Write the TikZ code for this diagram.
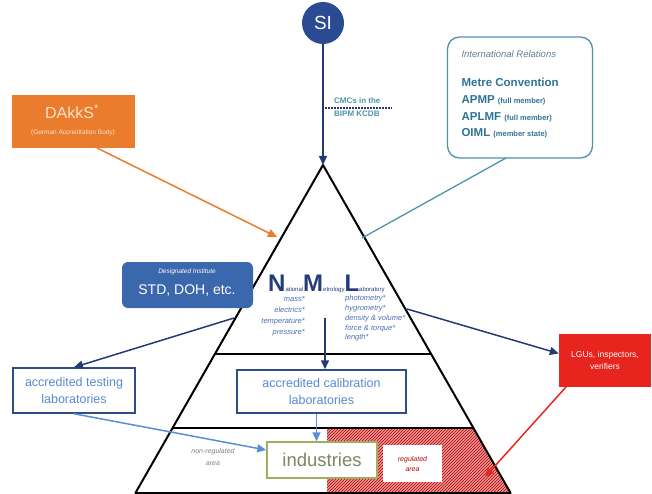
\documentclass[tikz,border=0pt]{standalone}
\usepackage{fontspec}
\setmainfont{Liberation Sans}
\usetikzlibrary{arrows.meta,patterns}
\definecolor{sinavy}{HTML}{2A4A92}
\definecolor{arrownavy}{HTML}{243A72}
\definecolor{dakksorange}{HTML}{EB7C2E}
\definecolor{dakkscream}{HTML}{FBE3C8}
\definecolor{intlteal}{HTML}{4D93AA}
\definecolor{intltext}{HTML}{2F7394}
\definecolor{intlgray}{HTML}{5E7E92}
\definecolor{desblue}{HTML}{3B67AD}
\definecolor{nmlnavy}{HTML}{233C7C}
\definecolor{listblue}{HTML}{4C6EB2}
\definecolor{labborder}{HTML}{2F4E84}
\definecolor{labtext}{HTML}{5A8AD0}
\definecolor{lightarrow}{HTML}{5B8ED4}
\definecolor{indborder}{HTML}{9FAE62}
\definecolor{indtext}{HTML}{7C8766}
\definecolor{lgured}{HTML}{E8241F}
\definecolor{hatchred}{HTML}{EC9696}
\begin{document}
\begin{tikzpicture}[x=1pt,y=-1pt,
  labbox/.style={draw=labborder,line width=1.5pt,fill=white,inner sep=0pt,align=center,text=labtext,font=\fontsize{12.5}{17}\selectfont},
  navyarrow/.style={draw=arrownavy,line width=1.5pt,-{Triangle[length=9pt,width=8pt]}},
  bluearrow/.style={draw=lightarrow,line width=1.5pt,-{Triangle[length=9pt,width=8pt]}},
  intlline/.style={anchor=base west,text=intltext,font=\fontsize{11.5}{12}\selectfont\bfseries}]
\useasboundingbox (0,0) rectangle (652,494);

\coordinate (apex) at (323,165);
\coordinate (baseL) at (135.4,493);
\coordinate (baseR) at (510.6,493);
\coordinate (bandAL) at (214.9,354);
\coordinate (bandAR) at (431.1,354);
\coordinate (bandBL) at (172.6,428);
\coordinate (bandBR) at (473.4,428);

\fill[hatchred] (327,428) -- (bandBR) -- (baseR) -- (327,493) -- cycle;
\fill[pattern=north east lines,pattern color=red!70!black] (327,428) -- (bandBR) -- (baseR) -- (327,493) -- cycle;

\draw[line width=2pt,line join=round] (apex) -- (baseL) -- (baseR) -- cycle;
\draw[line width=2pt] (bandAL) -- (bandAR);
\draw[line width=2pt] (bandBL) -- (bandBR);

\node[circle,fill=sinavy,text=white,minimum size=42pt,inner sep=0pt,font=\fontsize{19}{19}\selectfont] (si) at (323,23) {SI};
\draw[navyarrow] (si) -- (apex);
\coordinate (kcdbL) at (325,108);
\coordinate (kcdbR) at (392,108);
\draw[arrownavy,line width=2pt,dash pattern=on 1.5pt off 1.5pt] (kcdbL) -- (kcdbR);
\node[anchor=west,align=left,inner sep=0pt,text=intlteal,font=\fontsize{8}{12.5}\selectfont\bfseries] (kcdb) at (334,107) {CMCs in the\\BIPM KCDB};

\node[fill=dakksorange,minimum width=123pt,minimum height=53pt,inner sep=0pt] (dakks) at (73.5,121.5) {};
\node[text=dakkscream,font=\fontsize{16}{16}\selectfont] (dakksname) at (72,112) {DAkkS\textsuperscript{*}};
\node[text=dakkscream,font=\fontsize{6.5}{7}\selectfont] (dakksbody) at (73,133) {(German Accreditation Body)};
\coordinate (dakksfoot) at (97,148);
\coordinate (dakkshit) at (277,237);
\draw[dakksorange,line width=1.5pt,-{Triangle[length=9pt,width=8pt]}] (dakksfoot) -- (dakkshit);

\node[draw=intlteal,line width=1.3pt,rounded corners=12pt,minimum width=145pt,minimum height=121pt,inner sep=0pt] (intl) at (520,97.5) {};
\node[anchor=base west,text=intlgray,font=\fontsize{9.5}{10}\selectfont\itshape] (intltitle) at (458,58) {International Relations};
\node[intlline] (metre) at (458,87) {Metre Convention};
\node[intlline] (apmp) at (458,104) {APMP {\fontsize{7.5}{7.5}\selectfont(full member)}};
\node[intlline] (aplmf) at (458,121) {APLMF {\fontsize{7.5}{7.5}\selectfont(full member)}};
\node[intlline] (oiml) at (458,137) {OIML {\fontsize{7.5}{7.5}\selectfont(member state)}};
\coordinate (intlfoot) at (506,158);
\coordinate (intlhit) at (362,238);
\draw[intlteal,line width=1.3pt] (intlfoot) -- (intlhit);

\node[fill=desblue,rounded corners=6pt,minimum width=131pt,minimum height=46pt,inner sep=0pt] (desig) at (187.5,285) {};
\node[text=white,font=\fontsize{6.5}{7}\selectfont\itshape] (desigtitle) at (187,272) {Designated Institute};
\node[text=white,font=\fontsize{14}{14}\selectfont] (designame) at (187,291) {STD, DOH, etc.};

\node[anchor=base west,inner sep=0pt,text=nmlnavy,font=\fontsize{6}{6}\selectfont] (nml) at (268,291)
  {{\fontsize{24}{24}\selectfont\bfseries N}ational{\fontsize{24}{24}\selectfont\bfseries M}etrology{\fontsize{24}{24}\selectfont\bfseries L}aboratory};
\node[anchor=north east,align=right,inner sep=0pt,text=listblue,font=\fontsize{7.5}{11}\selectfont\itshape] (leftlist) at (305,296) {mass*\\electrics*\\temperature*\\pressure*};
\node[anchor=north west,align=left,inner sep=0pt,text=listblue,font=\fontsize{7.5}{9.8}\selectfont\itshape] (rightlist) at (345,295) {photometry*\\hygrometry*\\density \& volume*\\force \& torque*\\length*};

\node[labbox,minimum width=122pt,minimum height=45pt] (testing) at (74,390.5) {accredited testing\\laboratories};
\node[labbox,minimum width=169pt,minimum height=43pt] (calib) at (321.5,391.5) {accredited calibration\\laboratories};
\node[fill=lgured,minimum width=92pt,minimum height=53pt,inner sep=0pt,align=center,text=white,font=\fontsize{8.5}{12}\selectfont] (lgus) at (605,360.5) {LGUs, inspectors,\\verifiers};

\coordinate (nmlfoot) at (325,318);
\coordinate (leftedge) at (234,318);
\coordinate (rightedge) at (407,309);
\draw[navyarrow] (nmlfoot) -- (nmlfoot |- calib.north);
\draw[navyarrow] (leftedge) -- (testing.north);
\draw[navyarrow] (rightedge) -- ([yshift=7pt]lgus.west);

\node[draw=indborder,line width=1.5pt,fill=white,minimum width=110pt,minimum height=36pt,inner sep=0pt,text=indtext,font=\fontsize{18.5}{18.5}\selectfont] (industries) at (322,460) {industries};
\node[fill=white,minimum width=59pt,minimum height=37pt,inner sep=0pt,align=center,text=red!75!black,font=\fontsize{7}{10}\selectfont\itshape] (regarea) at (412.5,463.5) {regulated\\area};
\node[align=center,inner sep=0pt,text=gray,font=\fontsize{7}{12}\selectfont\itshape] (nonreg) at (213,457) {non-regulated\\area};

\draw[bluearrow] (testing.south) -- ([yshift=10pt]industries.west);
\draw[bluearrow] ([xshift=-5pt]calib.south) -- ([xshift=-5pt]calib.south |- industries.north);

\coordinate (lgusfoot) at (566,387);
\coordinate (reghit) at (485,477);
\draw[lgured,line width=1.5pt,-{Triangle[length=9pt,width=8pt]}] (lgusfoot) -- (reghit);
\end{tikzpicture}
\end{document}
